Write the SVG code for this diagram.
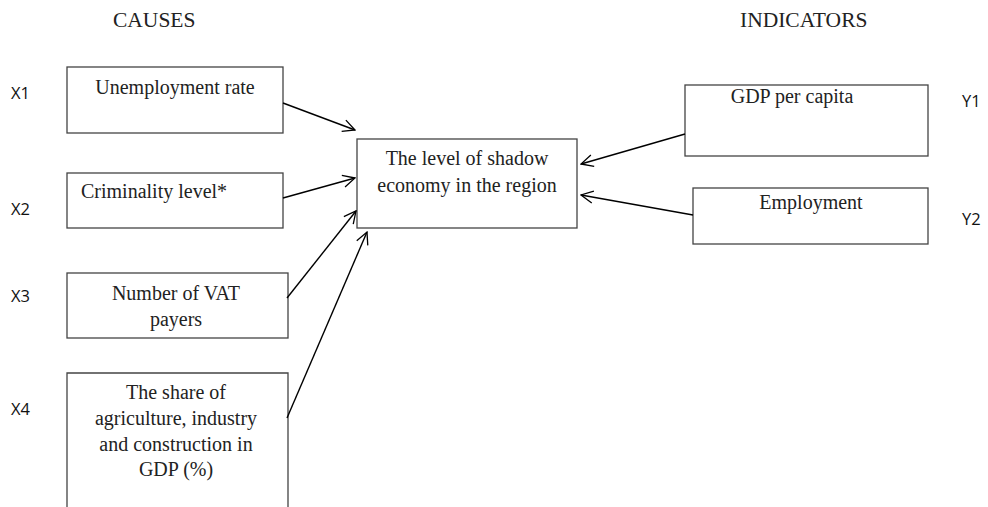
<svg xmlns="http://www.w3.org/2000/svg" width="988" height="507" viewBox="0 0 988 507">
<defs>
<marker id="arr" markerWidth="14" markerHeight="14" refX="13" refY="7" orient="auto" markerUnits="userSpaceOnUse">
<path d="M1,1 L13,7 L1,13" fill="none" stroke="#000" stroke-width="1.3"/>
</marker>
<style>
.box{fill:#fff;stroke:#444;stroke-width:1.3}
.t{font-family:"Liberation Serif","Times New Roman",serif;font-size:20px;fill:#222}
.c{text-anchor:middle}
.lab{font-family:"Open Sans","Liberation Sans",sans-serif;font-size:16.5px;fill:#111}
.con{stroke:#000;stroke-width:1.4;fill:none;marker-end:url(#arr)}
</style>
</defs>
<rect width="988" height="507" fill="#fff"/>
<text class="t" x="113" y="27" style="font-size:21.5px">CAUSES</text>
<text class="t" x="740" y="27" style="font-size:21.5px">INDICATORS</text>
<g class="lab">
<text x="11" y="99">X1</text>
<text x="11" y="215">X2</text>
<text x="11" y="302">X3</text>
<text x="11" y="415">X4</text>
<text x="962" y="107">Y1</text>
<text x="962" y="225">Y2</text>
</g>
<g id="x1">
<rect class="box" x="67" y="67" width="216" height="66"/>
<text class="t c" x="175" y="94">Unemployment rate</text>
</g>
<g id="x2">
<rect class="box" x="67" y="173" width="216" height="55"/>
<text class="t" x="81" y="198">Criminality level*</text>
</g>
<g id="x3">
<rect class="box" x="67" y="273" width="221" height="65"/>
<text class="t c" x="176" y="300">Number of VAT</text>
<text class="t c" x="176" y="326">payers</text>
</g>
<g id="x4">
<path class="box" d="M67,512 L67,373 L288,373 L288,512"/>
<text class="t c" x="176" y="399">The share of</text>
<text class="t c" x="176" y="425">agriculture, industry</text>
<text class="t c" x="176" y="451">and construction in</text>
<text class="t c" x="176" y="476">GDP (%)</text>
</g>
<g id="center">
<rect class="box" x="357" y="139" width="220" height="89"/>
<text class="t c" x="467" y="165">The level of shadow</text>
<text class="t c" x="467" y="192">economy in the region</text>
</g>
<g id="y1">
<rect class="box" x="685" y="85" width="243" height="71"/>
<text class="t c" x="792" y="103">GDP per capita</text>
</g>
<g id="y2">
<rect class="box" x="693" y="188" width="235" height="56"/>
<text class="t c" x="811" y="209">Employment</text>
</g>
<g id="connectors">
<line class="con" x1="283" y1="103" x2="355" y2="130"/>
<line class="con" x1="283" y1="198" x2="355" y2="178"/>
<line class="con" x1="287" y1="298" x2="356" y2="211"/>
<line class="con" x1="287" y1="418" x2="367" y2="232"/>
<line class="con" x1="685" y1="134" x2="581" y2="164"/>
<line class="con" x1="693" y1="215" x2="581" y2="195"/>
</g>
</svg>
